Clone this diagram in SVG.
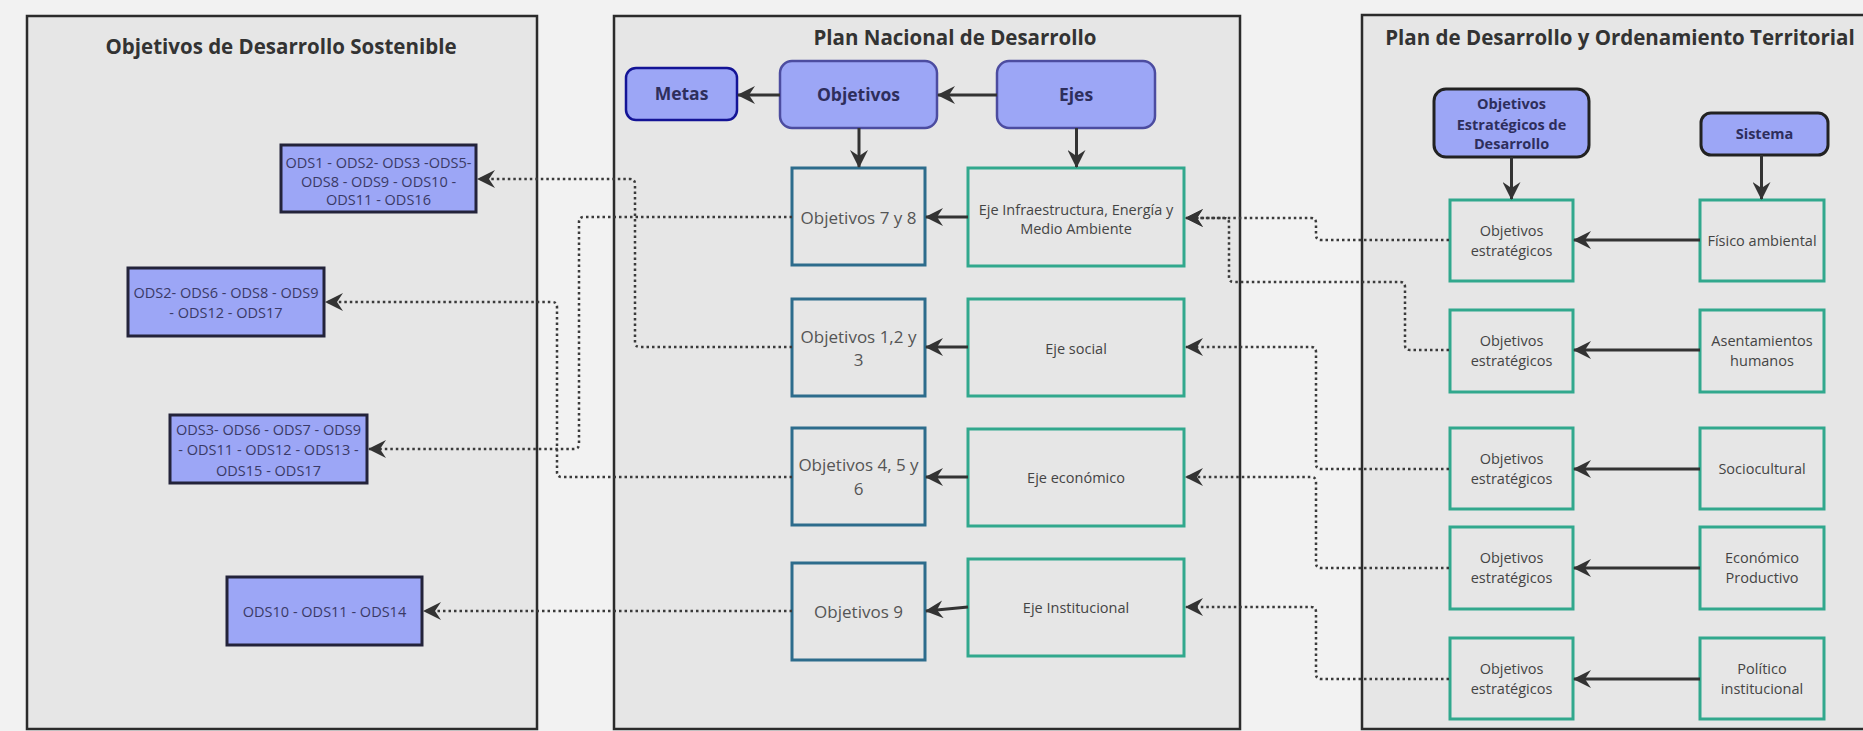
<svg xmlns="http://www.w3.org/2000/svg" width="1863" height="731" viewBox="0 0 1863 731">
<style>
text{font-family:"Open Sans","Noto Sans","DejaVu Sans",sans-serif;text-anchor:middle}
.cont{fill:#e6e6e6;stroke:#2b2b2b;stroke-width:2.5}
.title{font-size:20.5px;font-weight:700;fill:#333}
.ods{fill:#9ca6f6;stroke:#23233a;stroke-width:3}
.odst{font-size:14.5px;fill:#3a3a66}
.blue{fill:#9ca6f6;stroke:#4c4ca0;stroke-width:2.5}
.metas{fill:#9ca6f6;stroke:#141496;stroke-width:2.5}
.blk{fill:#9ca6f6;stroke:#222;stroke-width:3}
.bt{font-weight:700;fill:#2e2e5c}
.obj{fill:#e6e6e6;stroke:#2d6c8c;stroke-width:3}
.objt{font-size:17px;fill:#555}
.eje{fill:#e6e6e6;stroke:#31a88d;stroke-width:3}
.ejet{font-size:14.5px;fill:#444}
.solid{fill:none;stroke:#333;stroke-width:3;marker-end:url(#ah)}
.dot{fill:none;stroke:#3a3a3a;stroke-width:2.5;stroke-dasharray:2.5 3;marker-end:url(#ah)}
</style>
<defs>
<marker id="ah" markerUnits="userSpaceOnUse" markerWidth="18" markerHeight="18" viewBox="0 0 18 18" refX="17" refY="9" orient="auto">
<path d="M18,9 L0,0 L6,9 L0,18 Z" fill="#333"/>
</marker>
</defs>
<rect x="0" y="0" width="1863" height="731" fill="#f2f2f2"/>

<g id="cont-ods">
<rect class="cont" x="27" y="16" width="510" height="713"/>
<text class="title" x="281" y="54">Objetivos de Desarrollo Sostenible</text>
</g>
<g id="cont-pnd">
<rect class="cont" x="614" y="16" width="626" height="713"/>
<text class="title" x="955" y="45">Plan Nacional de Desarrollo</text>
</g>
<g id="cont-pdot">
<rect class="cont" x="1362" y="15" width="520" height="714"/>
<text class="title" x="1620" y="45">Plan de Desarrollo y Ordenamiento Territorial</text>
</g>

<g id="ods1">
<rect class="ods" x="281" y="145" width="195" height="67"/>
<text class="odst" x="378.5" y="168">ODS1 - ODS2- ODS3 -ODS5-</text>
<text class="odst" x="378.5" y="187">ODS8 - ODS9 - ODS10 -</text>
<text class="odst" x="378.5" y="205">ODS11 - ODS16</text>
</g>
<g id="ods2">
<rect class="ods" x="128" y="268" width="196" height="68"/>
<text class="odst" x="226" y="298">ODS2- ODS6 - ODS8 - ODS9</text>
<text class="odst" x="226" y="318">- ODS12 - ODS17</text>
</g>
<g id="ods3">
<rect class="ods" x="170" y="415" width="197" height="68"/>
<text class="odst" x="268.5" y="435">ODS3- ODS6 - ODS7 - ODS9</text>
<text class="odst" x="268.5" y="455">- ODS11 - ODS12 - ODS13 -</text>
<text class="odst" x="268.5" y="476">ODS15 - ODS17</text>
</g>
<g id="ods4">
<rect class="ods" x="227" y="577" width="195" height="68"/>
<text class="odst" x="324.5" y="617">ODS10 - ODS11 - ODS14</text>
</g>

<g id="metas">
<rect class="metas" x="626" y="68" width="111" height="52" rx="10"/>
<text class="bt" x="681.5" y="100" font-size="17.5">Metas</text>
</g>
<g id="objetivos">
<rect class="blue" x="780" y="61" width="157" height="67" rx="12"/>
<text class="bt" x="858.5" y="101" font-size="17.5">Objetivos</text>
</g>
<g id="ejes">
<rect class="blue" x="997" y="61" width="158" height="67" rx="12"/>
<text class="bt" x="1076" y="101" font-size="17.5">Ejes</text>
</g>

<g id="obj78">
<rect class="obj" x="792" y="168" width="133" height="97"/>
<text class="objt" x="858.5" y="224">Objetivos 7 y 8</text>
</g>
<g id="obj123">
<rect class="obj" x="792" y="299" width="133" height="97"/>
<text class="objt" x="858.5" y="343">Objetivos 1,2 y</text>
<text class="objt" x="858.5" y="366">3</text>
</g>
<g id="obj456">
<rect class="obj" x="792" y="428" width="133" height="97"/>
<text class="objt" x="858.5" y="471">Objetivos 4, 5 y</text>
<text class="objt" x="858.5" y="495">6</text>
</g>
<g id="obj9">
<rect class="obj" x="792" y="563" width="133" height="97"/>
<text class="objt" x="858.5" y="618">Objetivos 9</text>
</g>

<g id="eje-infra">
<rect class="eje" x="968" y="168" width="216" height="98"/>
<text class="ejet" x="1076" y="215">Eje Infraestructura, Energía y</text>
<text class="ejet" x="1076" y="234">Medio Ambiente</text>
</g>
<g id="eje-social">
<rect class="eje" x="968" y="299" width="216" height="97"/>
<text class="ejet" x="1076" y="354">Eje social</text>
</g>
<g id="eje-economico">
<rect class="eje" x="968" y="429" width="216" height="97"/>
<text class="ejet" x="1076" y="483">Eje económico</text>
</g>
<g id="eje-institucional">
<rect class="eje" x="968" y="559" width="216" height="97"/>
<text class="ejet" x="1076" y="613">Eje Institucional</text>
</g>

<g id="obj-estr-des">
<rect class="blk" x="1434" y="89" width="155" height="68" rx="12"/>
<text class="bt" x="1511.5" y="109" font-size="14.5">Objetivos</text>
<text class="bt" x="1511.5" y="130" font-size="14.5">Estratégicos de</text>
<text class="bt" x="1511.5" y="149" font-size="14.5">Desarrollo</text>
</g>
<g id="sistema">
<rect class="blk" x="1701" y="113" width="127" height="42" rx="10"/>
<text class="bt" x="1764.5" y="139" font-size="14.5">Sistema</text>
</g>

<g id="oe1">
<rect class="eje" x="1450" y="200" width="123" height="81"/>
<text class="ejet" x="1511.5" y="235.5">Objetivos</text>
<text class="ejet" x="1511.5" y="255.5">estratégicos</text>
</g>
<g id="oe2">
<rect class="eje" x="1450" y="310" width="123" height="82"/>
<text class="ejet" x="1511.5" y="346">Objetivos</text>
<text class="ejet" x="1511.5" y="366">estratégicos</text>
</g>
<g id="oe3">
<rect class="eje" x="1450" y="428" width="123" height="81"/>
<text class="ejet" x="1511.5" y="463.5">Objetivos</text>
<text class="ejet" x="1511.5" y="483.5">estratégicos</text>
</g>
<g id="oe4">
<rect class="eje" x="1450" y="527" width="123" height="82"/>
<text class="ejet" x="1511.5" y="563">Objetivos</text>
<text class="ejet" x="1511.5" y="583">estratégicos</text>
</g>
<g id="oe5">
<rect class="eje" x="1450" y="638" width="123" height="81"/>
<text class="ejet" x="1511.5" y="673.5">Objetivos</text>
<text class="ejet" x="1511.5" y="693.5">estratégicos</text>
</g>

<g id="fisico">
<rect class="eje" x="1700" y="200" width="124" height="81"/>
<text class="ejet" x="1762" y="245.5">Físico ambiental</text>
</g>
<g id="asentamientos">
<rect class="eje" x="1700" y="310" width="124" height="82"/>
<text class="ejet" x="1762" y="346">Asentamientos</text>
<text class="ejet" x="1762" y="366">humanos</text>
</g>
<g id="sociocultural">
<rect class="eje" x="1700" y="428" width="124" height="81"/>
<text class="ejet" x="1762" y="473.5">Sociocultural</text>
</g>
<g id="economico">
<rect class="eje" x="1700" y="527" width="124" height="82"/>
<text class="ejet" x="1762" y="563">Económico</text>
<text class="ejet" x="1762" y="583">Productivo</text>
</g>
<g id="politico">
<rect class="eje" x="1700" y="638" width="124" height="81"/>
<text class="ejet" x="1762" y="673.5">Político</text>
<text class="ejet" x="1762" y="693.5">institucional</text>
</g>

<g id="connectors">
<path class="solid" d="M997,95 L938,95"/>
<path class="solid" d="M780,95 L738,95"/>
<path class="solid" d="M859,128 L859,167"/>
<path class="solid" d="M1076.5,128 L1076.5,167"/>
<path class="solid" d="M968,217 L926,217"/>
<path class="solid" d="M968,347 L926,347"/>
<path class="solid" d="M968,477 L926,477"/>
<path class="solid" d="M968,607 L926,611"/>
<path class="solid" d="M1511.5,157 L1511.5,199"/>
<path class="solid" d="M1761.5,155 L1761.5,199"/>
<path class="solid" d="M1700,240 L1574,240"/>
<path class="solid" d="M1700,350 L1574,350"/>
<path class="solid" d="M1700,469 L1574,469"/>
<path class="solid" d="M1700,568 L1574,568"/>
<path class="solid" d="M1700,679 L1574,679"/>

<path class="dot" d="M792,347 L640,347 Q635,347 635,342 L635,184 Q635,179 630,179 L478,179"/>
<path class="dot" d="M792,217 L584,217 Q579,217 579,222 L579,444 Q579,449 574,449 L369,449"/>
<path class="dot" d="M792,477 L562,477 Q557,477 557,472 L557,307 Q557,302 552,302 L326,302"/>
<path class="dot" d="M792,611 L424,611"/>
<path class="dot" d="M1449,240 L1321,240 Q1316,240 1316,235 L1316,223 Q1316,218 1311,218 L1186,218"/>
<path class="dot" d="M1449,350 L1410,350 Q1405,350 1405,345 L1405,287 Q1405,282 1400,282 L1234,282 Q1229,282 1229,277 L1229,223 Q1229,218 1224,218 L1186,218"/>
<path class="dot" d="M1449,469 L1321,469 Q1316,469 1316,464 L1316,352 Q1316,347 1311,347 L1186,347"/>
<path class="dot" d="M1449,568 L1321,568 Q1316,568 1316,563 L1316,482 Q1316,477 1311,477 L1186,477"/>
<path class="dot" d="M1449,679 L1321,679 Q1316,679 1316,674 L1316,612 Q1316,607 1311,607 L1186,607"/>
</g>
</svg>
